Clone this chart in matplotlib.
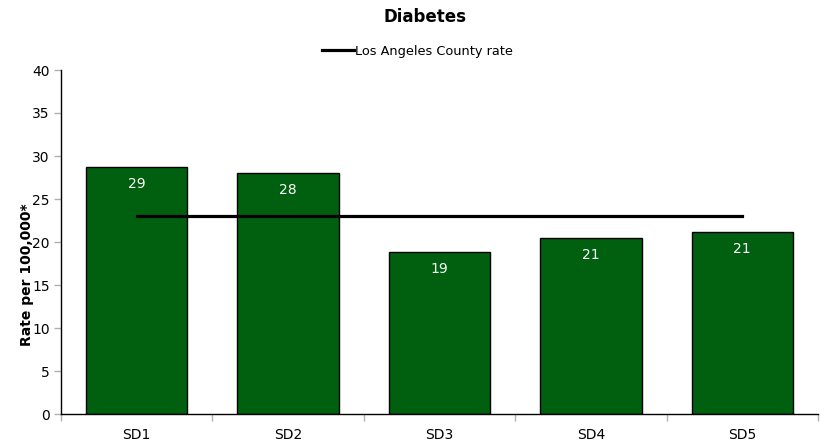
import matplotlib
matplotlib.use("Agg")
import matplotlib.pyplot as plt
import numpy as np

categories = ["SD1", "SD2", "SD3", "SD4", "SD5"]
rates = [28.7, 28.0, 18.8, 20.5, 21.2]
labels = ["29", "28", "19", "21", "21"]
county_rate = [23.0, 23.0, 23.0, 23.0, 23.0]
yticks = [0, 5, 10, 15, 20, 25, 30, 35, 40]

fig = plt.figure(figsize=(8.25, 4.48), dpi=100)
ax = fig.add_axes([61/825, 1-414/448, (818-61)/825, (414-70)/448])

x = np.arange(len(categories))
bars = ax.bar(x, rates, width=0.67, color="#00600F", edgecolor="black", linewidth=1.0, zorder=2)
line, = ax.plot(x, county_rate, color="black", linewidth=2.3, zorder=3, label="Los Angeles County rate")

for xi, r, lab in zip(x, rates, labels):
    ax.annotate(lab, (xi, r), xytext=(0, -12.3), textcoords="offset points",
                ha="center", va="center", color="white", fontsize=10, zorder=4)

ax.set_xlim(-0.5, len(categories) - 0.5)
ax.set_ylim(0, 40)
ax.set_yticks(yticks)
ax.set_yticklabels([str(t) for t in yticks], fontsize=10)
ax.set_xticks(x)
ax.set_xticklabels(categories, fontsize=10)
ax.tick_params(axis="x", length=0, pad=10)
ax.set_xticks(np.arange(len(categories) + 1) - 0.5, minor=True)
ax.tick_params(axis="x", which="minor", length=5, color="#b0b0b0", width=1)
ax.tick_params(axis="y", length=5, color="#b0b0b0", width=1, pad=3)

for s in ["top", "right"]:
    ax.spines[s].set_visible(False)
ax.spines["left"].set_linewidth(1.0)
ax.spines["bottom"].set_linewidth(1.0)

fig.text(425/825, 1-17/448, "Diabetes", ha="center", va="center", fontsize=12, fontweight="bold")
fig.text(27/825, 1-275/448, "Rate per 100,000*", ha="center", va="center", rotation=90,
         fontsize=10, fontweight="bold")

leg = fig.legend(handles=[line], loc="center", bbox_to_anchor=(417/825, 1-51/448), frameon=False,
                 fontsize=9.3, handlelength=2.5, handletextpad=0.05, borderaxespad=0)

fig.savefig("out.png", dpi=100)
